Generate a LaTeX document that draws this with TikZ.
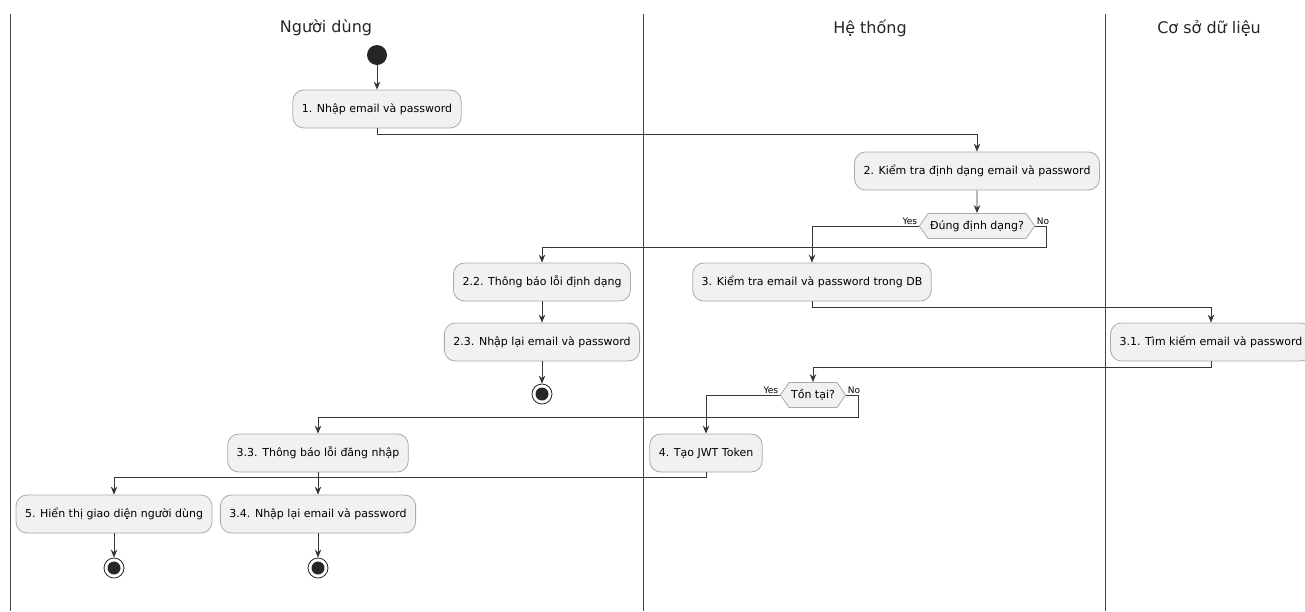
\documentclass[tikz,border=0pt]{standalone}
\usepackage{fontspec}
\setmainfont{DejaVu Sans}
\usepackage{tikz}
\usetikzlibrary{arrows.meta,shapes.symbols}
\definecolor{laneline}{RGB}{70,70,70}
\definecolor{boxedge}{RGB}{170,170,170}
\definecolor{boxfill}{RGB}{241,241,241}
\definecolor{flowgray}{RGB}{55,55,55}
\tikzset{
  actbox/.style={
    draw=boxedge,fill=boxfill,rounded corners=11pt,minimum height=38pt,
    inner xsep=9pt,line width=0.8pt,font=\fontsize{11}{13}\selectfont
  },
  decbox/.style={
    signal,signal to=east and west,signal pointer angle=110,draw=boxedge,
    fill=boxfill,minimum height=25pt,inner xsep=2pt,inner ysep=1pt,
    line width=0.8pt,font=\fontsize{11}{13}\selectfont
  },
  startdot/.style={circle,fill=black!85,minimum size=20pt,inner sep=0pt},
  enddot/.style={
    circle,draw=black!85,line width=0.8pt,minimum size=20pt,inner sep=0pt,
    path picture={\fill[black!85] (path picture bounding box.center) circle (6.5pt);}
  },
  flowarrow/.style={-{Stealth[length=8pt,width=6.5pt]},line width=0.9pt,draw=flowgray},
  lanerule/.style={draw=laneline,line width=0.9pt},
  lanehead/.style={font=\fontsize{16}{19}\selectfont,text=black!85},
  choicelbl/.style={font=\fontsize{9}{10}\selectfont,inner sep=1.5pt}
}
\begin{document}
\begin{tikzpicture}[x=1pt,y=-1pt]
  \useasboundingbox (0,0) rectangle (1305,611);
  \draw[lanerule] (10,14) -- (10,611);
  \draw[lanerule] (643,14) -- (643,611);
  \draw[lanerule] (1105,14) -- (1105,611);
  \node[lanehead] (laneUser) at (326,28) {Người dùng};
  \node[lanehead] (laneSys) at (870,28) {Hệ thống};
  \node[lanehead] (laneDb) at (1209,28) {Cơ sở dữ liệu};

  \node[startdot] (start) at (377,55) {};
  \node[actbox] (enter) at (377,109) {1. Nhập email và password};
  \node[actbox] (check) at (977,171) {2. Kiểm tra định dạng email và password};
  \node[decbox] (fmtok) at (977,226) {Đúng định dạng?};
  \node[actbox] (fmterr) at (542,282) {2.2. Thông báo lỗi định dạng};
  \node[actbox] (reenterA) at (542,342) {2.3. Nhập lại email và password};
  \node[enddot] (stopA) at (542,394) {};
  \node[actbox] (dbcheck) at (812,282) {3. Kiểm tra email và password trong DB};
  \node[actbox] (dbfind) at (1211,342) {3.1. Tìm kiếm email và password};
  \node[decbox] (exists) at (813,395) {Tồn tại?};
  \node[actbox] (token) at (706,453) {4. Tạo JWT Token};
  \node[actbox] (loginerr) at (318,453) {3.3. Thông báo lỗi đăng nhập};
  \node[actbox] (reenterB) at (318,514) {3.4. Nhập lại email và password};
  \node[actbox] (showui) at (114,514) {5. Hiển thị giao diện người dùng};
  \node[enddot] (stopB) at (318,568) {};
  \node[enddot] (stopC) at (114,568) {};

  \node[choicelbl,anchor=south east] (fmtyes) at (fmtok.west) {Yes};
  \node[choicelbl,anchor=south west] (fmtno) at (fmtok.east) {No};
  \node[choicelbl,anchor=south east] (exyes) at (exists.west) {Yes};
  \node[choicelbl,anchor=south west] (exno) at (exists.east) {No};

  \draw[flowarrow] (start) -- (enter);
  \draw[flowarrow] (enter.south) -- ++(0,6) -| (check.north);
  \draw[flowarrow] (check) -- (fmtok);
  \draw[flowarrow] (fmtok.west) -| (dbcheck.north);
  \draw[flowarrow] (fmtok.east) -- ++(11,0) -- ++(0,21) -| (fmterr.north);
  \draw[flowarrow] (fmterr) -- (reenterA);
  \draw[flowarrow] (reenterA) -- (stopA);
  \draw[flowarrow] (dbcheck.south) -- ++(0,6) -| (dbfind.north);
  \draw[flowarrow] (dbfind.south) -- ++(0,6) -| (exists.north);
  \draw[flowarrow] (exists.west) -| (token.north);
  \draw[flowarrow] (exists.east) -- ++(12,0) -- ++(0,22) -| (loginerr.north);
  \draw[flowarrow] (loginerr) -- (reenterB);
  \draw[flowarrow] (reenterB) -- (stopB);
  \draw[flowarrow] (token.south) -- ++(0,5) -| (showui.north);
  \draw[flowarrow] (showui) -- (stopC);
\end{tikzpicture}
\end{document}
